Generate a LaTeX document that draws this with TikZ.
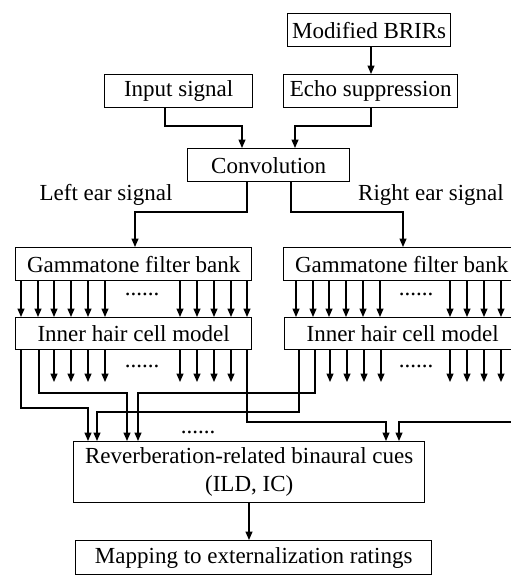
\documentclass[tikz,border=0pt]{standalone}
\usepackage{fontspec}
\setmainfont{Liberation Serif}
\usetikzlibrary{arrows.meta}
\begin{document}
\begin{tikzpicture}[x=1pt,y=-1pt,
  box/.style={draw, line width=1.4pt, inner sep=0pt, anchor=north west, font=\fontsize{23}{28.5}\selectfont},
  lbl/.style={inner sep=0pt, anchor=base, font=\fontsize{23}{28}\selectfont},
  arr/.style={line width=1.3pt, -{Triangle[length=8.5pt,width=7pt]}}]
\useasboundingbox (0,0) rectangle (511,579);
\clip (0,0) rectangle (511,579);
% boxes
\node[box, minimum width=163pt, minimum height=33pt] (brir) at (287,13) {Modified BRIRs};
\node[box, minimum width=174pt, minimum height=33pt] (echo) at (283,74) {Echo suppression};
\node[box, minimum width=148pt, minimum height=33pt] (input) at (104,74) {Input signal};
\node[box, minimum width=162pt, minimum height=33pt] (conv) at (187,148) {Convolution};
\node[box, minimum width=236pt, minimum height=33pt] (gamL) at (15,247) {Gammatone filter bank};
\node[box, minimum width=236pt, minimum height=33pt] (gamR) at (283,247) {Gammatone filter bank};
\node[box, minimum width=236pt, minimum height=32pt] (ihcL) at (15,317) {Inner hair cell model};
\node[box, minimum width=236pt, minimum height=32pt] (ihcR) at (284,317) {Inner hair cell model};
\node[box, minimum width=351pt, minimum height=61pt, align=center] (rev) at (73,441) {Reverberation-related binaural cues\\(ILD, IC)};
\node[box, minimum width=356pt, minimum height=34pt] (map) at (75,540) {Mapping to externalization ratings};
% labels
\node[lbl] (lel) at (106,200) {Left ear signal};
\node[lbl] (rel) at (431,200) {Right ear signal};
\node[lbl] (d1) at (142,295) {......};
\node[lbl] (d2) at (142,367) {......};
\node[lbl] (d3) at (416,295) {......};
\node[lbl] (d4) at (416,367) {......};
\node[lbl] (d5) at (198,433) {......};
% top connectors
\draw[arr] (brir.south -| 371,0) -- (echo.north -| 371,0);
\draw[arr] (input.south -| 165,0) |- (242,126) -- (conv.north -| 242,0);
\draw[arr] (echo.south -| 371,0) |- (295,126) -- (conv.north -| 295,0);
\draw[arr] (conv.south -| 247,0) |- (135,212) -- (gamL.north -| 135,0);
\draw[arr] (conv.south -| 291,0) |- (403,212) -- (gamR.north -| 403,0);
% filter bank channels
\foreach \x in {21,38,54,71,88,105,180,197,214,231,247}
  \draw[arr] (gamL.south -| \x,0) -- (ihcL.north -| \x,0);
\foreach \x in {296,313,329,346,363,380,450,467,484,501,518}
  \draw[arr] (gamR.south -| \x,0) -- (ihcR.north -| \x,0);
% ihc outputs
\foreach \x in {54,71,88,105,180,197,214,231}
  \draw[arr] (ihcL.south -| \x,0) -- (\x,382);
\foreach \x in {330,347,364,381,450,467,484,501}
  \draw[arr] (ihcR.south -| \x,0) -- (\x,382);
% to binaural cues
\draw[arr] (ihcL.south -| 21,0) |- (88,408) -- (rev.north -| 88,0);
\draw[arr] (ihcL.south -| 39,0) |- (127,393) -- (rev.north -| 127,0);
\draw[arr] (ihcL.south -| 247,0) |- (386,422) -- (rev.north -| 386,0);
\draw[arr] (ihcR.south -| 299,0) |- (97,412) -- (rev.north -| 97,0);
\draw[arr] (ihcR.south -| 315,0) |- (138,393) -- (rev.north -| 138,0);
\draw[arr] (ihcR.south -| 518,0) |- (399,422) -- (rev.north -| 399,0);
% to mapping
\draw[arr] (rev.south -| 249,0) -- (map.north -| 249,0);
\end{tikzpicture}
\end{document}
